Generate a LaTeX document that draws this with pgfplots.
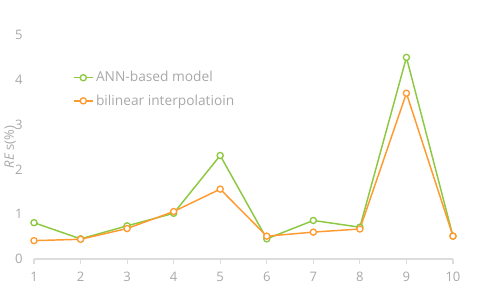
\documentclass[border=0pt]{standalone}
\usepackage{pgfplots}
\pgfplotsset{compat=1.18}
\usepackage{fontspec}
\setmainfont{Open Sans}
\definecolor{ann}{HTML}{8CC840}
\definecolor{bil}{HTML}{FF9A30}
\definecolor{txt}{HTML}{A8A8A8}
\definecolor{axl}{HTML}{DDDDDD}
\begin{document}
\begin{tikzpicture}[x=0.75pt,y=0.75pt]
\path[use as bounding box] (-34,-33) rectangle (446,259);
\begin{axis}[
  at={(0,0)}, anchor=origin,
  scale only axis,
  width=314.25pt, height=168pt,
  xmin=1, xmax=10, ymin=0, ymax=5,
  xtick={1,...,10}, ytick={0,1,2,3,4,5},
  axis x line*=bottom, axis y line*=left,
  y axis line style={draw=none},
  x axis line style={draw=axl, line width=0.8pt, -},
  major y tick style={draw=none},
  xtick style={draw=axl, line width=0.8pt},
  tick align=outside, major tick length=4pt,
  ticklabel style={font=\fontsize{9.8}{11}\selectfont, text=txt},
  /pgf/number format/assume math mode=true,
  xticklabel style={yshift=-2pt},
  yticklabel style={xshift=-1pt},
  ylabel={\textit{RE} s(\%)},
  ylabel style={font=\fontsize{9.8}{11}\selectfont, text=txt, at={(axis description cs:-0.057,0.5)}, anchor=center},
  legend style={draw=none, fill=none, at={(axis description cs:0.093,0.85)}, anchor=north west,
    font=\fontsize{10.3}{12}\selectfont, text=txt, row sep=4pt, inner sep=0pt, cells={anchor=west}},
  legend image code/.code={\draw[#1] (0pt,0pt) -- (14pt,0pt); \draw[#1, mark repeat=1] plot coordinates {(7pt,0pt)};},
  every axis plot/.append style={line width=1.1pt, mark=o, mark size=2.3pt, mark options={fill=white, line width=1pt}},
  clip=false,
]
\addplot[color=ann, mark=*] coordinates {(1,0.81) (2,0.45) (3,0.74) (4,1.02) (5,2.31) (6,0.45) (7,0.86) (8,0.71) (9,4.50) (10,0.51)};
\addlegendentry{ANN-based model}
\addplot[color=bil, mark=*] coordinates {(1,0.41) (2,0.44) (3,0.68) (4,1.06) (5,1.56) (6,0.51) (7,0.60) (8,0.67) (9,3.70) (10,0.51)};
\addlegendentry{bilinear interpolatioin}
\end{axis}
\end{tikzpicture}
\end{document}
